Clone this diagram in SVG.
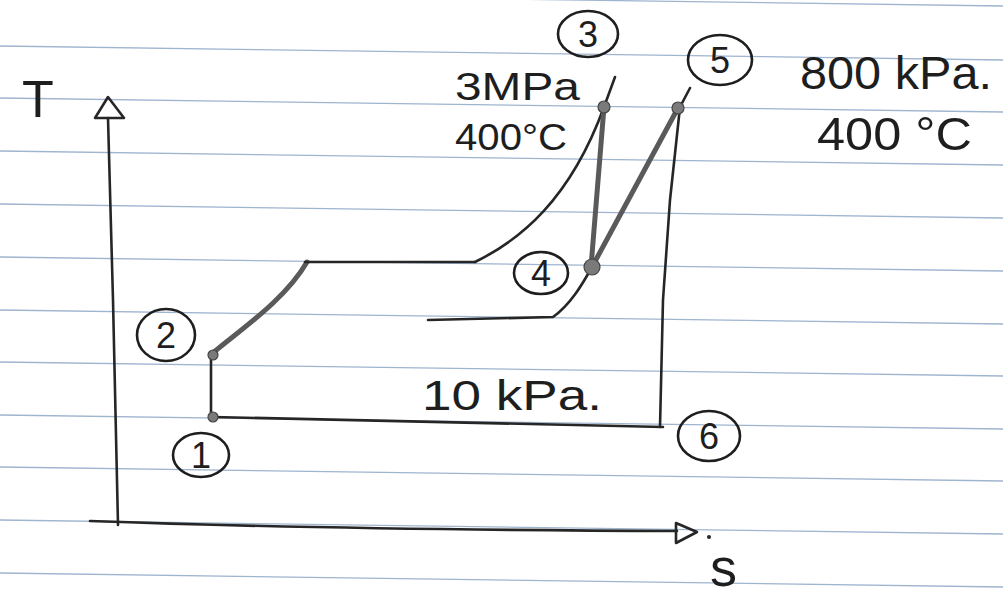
<svg xmlns="http://www.w3.org/2000/svg" width="1003" height="596" viewBox="0 0 1003 596">
  <style>
    .rule { stroke: #9fb4cf; stroke-width: 1.3; fill: none; }
    .ink { stroke: #262626; stroke-width: 2.6; fill: none; stroke-linecap: round; stroke-linejoin: round; }
    .thick { stroke: #5a5a5a; stroke-width: 5; fill: none; stroke-linecap: round; stroke-linejoin: round; }
    .dot { fill: #7a7a7a; stroke: #444; stroke-width: 1.2; }
    .ring { fill: none; stroke: #1e1e1e; stroke-width: 2.6; }
    .hand { font-family: "Liberation Sans", "DejaVu Sans", sans-serif; fill: #1e1e1e; }
    .num { font-family: "Liberation Sans", "DejaVu Sans", sans-serif; fill: #1e1e1e; font-size: 36px; text-anchor: middle; }
  </style>
  <rect width="1003" height="596" fill="#ffffff"/>
  <g id="paper-lines">
    <line class="rule" x1="0" y1="-8" x2="1003" y2="6"/>
    <line class="rule" x1="0" y1="46" x2="1003" y2="60"/>
    <line class="rule" x1="0" y1="98" x2="1003" y2="112"/>
    <line class="rule" x1="0" y1="151" x2="1003" y2="165"/>
    <line class="rule" x1="0" y1="204" x2="1003" y2="218"/>
    <line class="rule" x1="0" y1="257" x2="1003" y2="271"/>
    <line class="rule" x1="0" y1="310" x2="1003" y2="324"/>
    <line class="rule" x1="0" y1="362" x2="1003" y2="376"/>
    <line class="rule" x1="0" y1="415" x2="1003" y2="429"/>
    <line class="rule" x1="0" y1="467" x2="1003" y2="481"/>
    <line class="rule" x1="0" y1="520" x2="1003" y2="534"/>
    <line class="rule" x1="0" y1="573" x2="1003" y2="587"/>
  </g>
  <g id="axes">
    <path class="ink" d="M118,525 L113,300 L108,118"/>
    <polygon class="ink" points="108,97 95,118 124,118" fill="#ffffff"/>
    <text class="hand" x="22" y="117" font-size="52">T</text>
    <path class="ink" d="M90,521 C200,525 400,530 677,531"/>
    <polygon class="ink" points="676,523 697,532 676,543" fill="#ffffff"/>
    <circle cx="709" cy="537" r="2" fill="#262626"/>
    <text class="hand" x="710" y="586" font-size="54">s</text>
  </g>
  <g id="connectors">
    <path class="ink" d="M211,417 L211,355"/>
    <path class="ink" d="M213,417 L663,427"/>
    <path class="ink" d="M660,427 L663,300 L670,200 L680,107 L690,88"/>
    <path class="thick" d="M214,352 C240,330 285,300 307,262"/>
    <path class="ink" d="M305,262 L475,262"/>
    <path class="ink" d="M475,262 C520,240 570,200 604,107 L615,77"/>
    <path class="thick" d="M604,107 L591,267"/>
    <path class="ink" d="M428,320 L553,317 C570,305 582,285 592,267"/>
    <path class="thick" d="M592,267 L678,108"/>
  </g>
  <g id="state-1">
    <circle class="dot" cx="213" cy="417" r="5"/>
    <ellipse class="ring" cx="201" cy="455" rx="28" ry="22"/>
    <text class="num" x="201" y="468">1</text>
  </g>
  <g id="state-2">
    <circle class="dot" cx="213" cy="355" r="5"/>
    <ellipse class="ring" cx="166" cy="335" rx="29" ry="26"/>
    <text class="num" x="166" y="348">2</text>
  </g>
  <g id="state-3">
    <circle class="dot" cx="604" cy="107" r="6"/>
    <ellipse class="ring" cx="588" cy="34" rx="30" ry="23"/>
    <text class="num" x="588" y="47">3</text>
    <text class="hand" x="455" y="100" font-size="38" textLength="125" lengthAdjust="spacingAndGlyphs">3MPa</text>
    <text class="hand" x="455" y="150" font-size="36" textLength="112" lengthAdjust="spacingAndGlyphs">400°C</text>
  </g>
  <g id="state-4">
    <circle class="dot" cx="592" cy="267" r="8"/>
    <ellipse class="ring" cx="541" cy="273" rx="27" ry="21"/>
    <text class="num" x="541" y="286">4</text>
  </g>
  <g id="state-5">
    <circle class="dot" cx="678" cy="108" r="6"/>
    <ellipse class="ring" cx="720" cy="60" rx="32" ry="25"/>
    <text class="num" x="720" y="73">5</text>
    <text class="hand" x="800" y="89" font-size="46" textLength="192" lengthAdjust="spacingAndGlyphs">800 kPa.</text>
    <text class="hand" x="817" y="150" font-size="46" textLength="155" lengthAdjust="spacingAndGlyphs">400 °C</text>
  </g>
  <g id="state-6">
    <ellipse class="ring" cx="709" cy="436" rx="31" ry="25"/>
    <text class="num" x="709" y="449">6</text>
  </g>
  <g id="low-pressure-label">
    <text class="hand" x="422" y="410" font-size="42" textLength="180" lengthAdjust="spacingAndGlyphs">10 kPa.</text>
  </g>
</svg>
